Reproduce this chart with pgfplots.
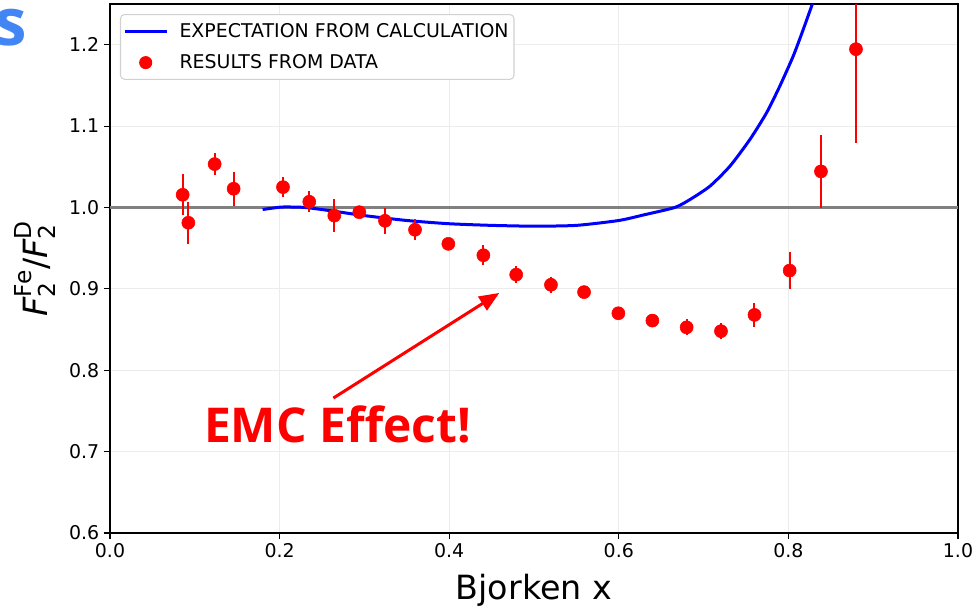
\documentclass[border=0pt]{standalone}
\usepackage{fontspec}
\setmainfont{DejaVu Sans}
\newfontfamily\opensans{Open Sans}
\usepackage{pgfplots}
\pgfplotsset{compat=1.18}
\usetikzlibrary{arrows.meta}
\definecolor{slideblue}{RGB}{66,133,244}
\definecolor{gridgray}{RGB}{236,236,236}
\newcommand\ms[1]{\mbox{\fontsize{17.5}{18}\selectfont #1}}

\pgfplotstableread{
x       y       ey
0.0857  1.0156  0.025
0.0924  0.9812  0.026
0.1234  1.0533  0.014
0.1458  1.0230  0.021
0.2040  1.0250  0.012
0.2350  1.0070  0.013
0.2645  0.9900  0.020
0.2940  0.9942  0.005
0.3243  0.9836  0.016
0.3597  0.9726  0.013
0.3990  0.9553  0.007
0.4403  0.9413  0.012
0.4790  0.9175  0.010
0.5200  0.9050  0.010
0.5590  0.8960  0.004
0.5995  0.8700  0.004
0.6396  0.8610  0.008
0.6800  0.8527  0.010
0.7205  0.8480  0.010
0.7600  0.8680  0.015
0.8015  0.9225  0.023
0.8384  1.0443  0.045
0.8797  1.1945  0.115
}\emcdata

\begin{document}
\begin{tikzpicture}
\useasboundingbox (-82.5pt,-56.25pt) rectangle (651pt,399.75pt);
\node[anchor=base east, text=slideblue, font=\opensans\bfseries\fontsize{49}{50}\selectfont, inner sep=0pt]
  at (-62.25pt,366pt) {s};
\begin{axis}[
 scale only axis, width=636pt, height=396.75pt,
 at={(0,0)}, anchor=south west,
 xmin=0, xmax=1, ymin=0.6, ymax=1.25,
 xtick={0,0.2,0.4,0.6,0.8,1.0}, ytick={0.6,0.7,0.8,0.9,1.0,1.1,1.2},
 /pgf/number format/.cd, fixed, fixed zerofill, precision=1, assume math mode=true, /pgfplots/.cd,
 tick align=outside, major tick length=4.5pt, xtick pos=left, ytick pos=left,
 tick style={black, line width=0.8pt},
 axis line style={line width=0.8pt},
 grid=major, major grid style={gridgray, line width=0.6pt},
 tick label style={font=\fontsize{14.2}{16}\selectfont},
 xlabel={Bjorken x},
 ylabel={$\mbox{\itshape F}^{\ms{Fe}}_{\ms{2}}\mbox{/}\mbox{\itshape F}^{\ms{D}}_{\ms{2}}$},
 every axis x label/.style={at={([yshift=-50pt]axis description cs:0.5,0)}, anchor=base,
   font=\fontsize{25}{30}\selectfont},
 every axis y label/.style={at={([xshift=-56.25pt]axis description cs:0,0.5)}, anchor=center, rotate=90,
   font=\fontsize{25}{30}\selectfont},
 legend cell align=left,
 legend style={font=\fontsize{14.2}{17}\selectfont, at={(0,1)}, anchor=north west,
   xshift=7.5pt, yshift=-7.5pt, draw=black!18, line width=0.8pt, rounded corners=3pt,
   fill=white, inner xsep=2pt, inner ysep=4.5pt,
   row sep=7.5pt, /tikz/every odd column/.append style={column sep=6.5pt}},
]
\addplot[gray, line width=2pt, forget plot] coordinates {(0,1) (1,1)};
\addplot[blue, line width=2.25pt, smooth, tension=0.4,
  legend image code/.code={\draw[blue, line width=2.25pt] (0pt,0pt) -- (31.5pt,0pt);}]
 coordinates {
 (0.180,0.9975) (0.200,1.0003) (0.210,1.0006) (0.230,1.0000) (0.260,0.9960)
 (0.300,0.9900) (0.350,0.9840) (0.400,0.9800) (0.450,0.9780) (0.500,0.9770)
 (0.550,0.9780) (0.600,0.9840) (0.630,0.9910) (0.666,1.0000) (0.684,1.0098)
 (0.7075,1.0262) (0.7311,1.0508) (0.7547,1.0837) (0.7744,1.1166) (0.790,1.1494)
 (0.8058,1.1863) (0.8176,1.2190) (0.8286,1.2510)
 };
\addlegendentry{EXPECTATION FROM CALCULATION}
\addlegendimage{draw=none, legend image code/.code={\path[draw=none] (0pt,0pt) -- (31.5pt,0pt); \fill[red, draw=none] (15.75pt,0pt) circle (4.9pt);}}
\addlegendentry{RESULTS FROM DATA}
\addplot[red, only marks, mark=*, mark size=4.9pt, mark options={draw=red, fill=red}, forget plot,
  error bars/.cd, y dir=both, y explicit, error mark=none,
  error bar style={red, line width=1.5pt}]
 table[x=x, y=y, y error=ey] {\emcdata};
\draw[red, line width=2.25pt, -{Triangle[length=15pt,width=12pt]}]
  (axis cs:0.2634,0.7658) -- (axis cs:0.4591,0.895);
\node[anchor=base, text=red, font=\opensans\bfseries\fontsize{36}{40}\selectfont, inner sep=0pt]
  at (axis cs:0.2682,0.7111) {EMC Effect!};
\end{axis}
\end{tikzpicture}
\end{document}
